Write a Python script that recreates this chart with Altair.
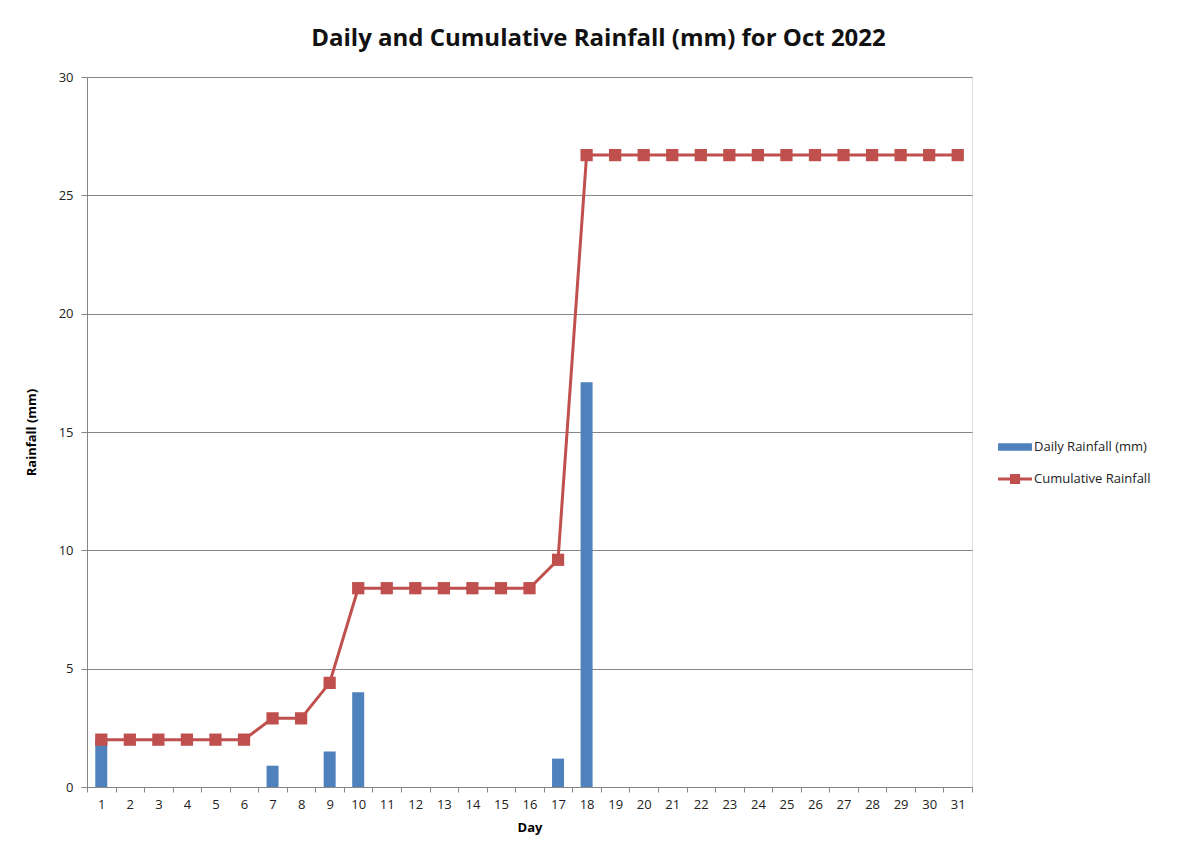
import altair as alt
import pandas as pd

days = list(range(1, 32))
daily = [2.0, 0, 0, 0, 0, 0, 0.9, 0, 1.5, 4.0, 0, 0, 0, 0, 0, 0, 1.2, 17.1,
         0, 0, 0, 0, 0, 0, 0, 0, 0, 0, 0, 0, 0]
cumulative = [2.0, 2.0, 2.0, 2.0, 2.0, 2.0, 2.9, 2.9, 4.4, 8.4, 8.4, 8.4, 8.4, 8.4, 8.4, 8.4,
              9.6, 26.7, 26.7, 26.7, 26.7, 26.7, 26.7, 26.7, 26.7, 26.7, 26.7, 26.7, 26.7, 26.7, 26.7]
series_names = ["Daily Rainfall (mm)", "Cumulative Rainfall"]
series_colors = ["#4F81BD", "#C0504D"]
legend_paths = ["M-1,-0.22H1V0.22H-1Z",
                "M-1,-0.086H-0.3V-0.3H0.3V-0.086H1V0.086H0.3V0.3H-0.3V0.086H-1Z"]

bars_df = pd.DataFrame({"day": days, "value": daily, "series": series_names[0]})
bars_df = bars_df[bars_df["value"] > 0]
line_df = pd.DataFrame({"day": days, "value": cumulative, "series": series_names[1]})
legend_df = pd.DataFrame({"series": series_names})

FONT = "Open Sans"

x_enc = alt.X("day:O", title="Day",
              scale=alt.Scale(paddingInner=0, paddingOuter=0),
              axis=alt.Axis(labelAngle=0, tickBand="extent", domainColor="#868686",
                            tickColor="#868686", tickSize=5, labelPadding=6,
                            labelFont=FONT, labelFontSize=13, labelColor="#222222",
                            titleFont=FONT, titleFontSize=13, titleFontWeight="bold",
                            titlePadding=10, grid=False))
y_enc = alt.Y("value:Q", title="Rainfall (mm)",
              scale=alt.Scale(domain=[0, 30]),
              axis=alt.Axis(values=[0, 5, 10, 15, 20, 25, 30], domainColor="#868686",
                            tickColor="#868686", tickSize=6, gridColor="#868686",
                            gridWidth=1, labelPadding=8,
                            labelFont=FONT, labelFontSize=13, labelColor="#222222",
                            titleFont=FONT, titleFontSize=13, titleFontWeight="bold",
                            titlePadding=20))

legend = alt.Legend(
    title=None, orient="none", legendX=911, legendY=353,
    symbolSize=1150, rowPadding=8, labelOffset=2,
    symbolOpacity=1, symbolStrokeWidth=0,
    labelFont=FONT, labelFontSize=13, labelColor="#222222",
)
color_enc = alt.Color("series:N", scale=alt.Scale(domain=series_names, range=series_colors),
                      legend=legend)
shape_enc = alt.Shape("series:N", scale=alt.Scale(domain=series_names, range=legend_paths),
                      legend=legend)

bars = alt.Chart(bars_df).mark_bar(size=12).encode(x=x_enc, y=y_enc, color=color_enc)
line = alt.Chart(line_df).mark_line(strokeWidth=3).encode(x=x_enc, y=y_enc, color=color_enc)
points = alt.Chart(line_df).mark_point(shape="square", filled=True, size=150, opacity=1).encode(
    x=x_enc, y=y_enc, color=color_enc)
legend_layer = alt.Chart(legend_df).mark_point(filled=True, opacity=0).encode(
    x=alt.value(0), y=alt.value(0), color=color_enc, shape=shape_enc)

chart = alt.layer(bars, line, points, legend_layer).properties(
    width=885, height=710,
    title=alt.TitleParams("Daily and Cumulative Rainfall (mm) for Oct 2022",
                          font=FONT, fontSize=24, fontWeight="bold", color="#111111",
                          anchor="middle", dx=69, offset=20),
    autosize=alt.AutoSizeParams(type="none"),
    padding={"left": 79, "top": 69, "right": 205, "bottom": 52},
).configure_view(stroke=None).configure(background="white")

chart.save("out.html", embed_options={"renderer": "svg", "actions": False})
